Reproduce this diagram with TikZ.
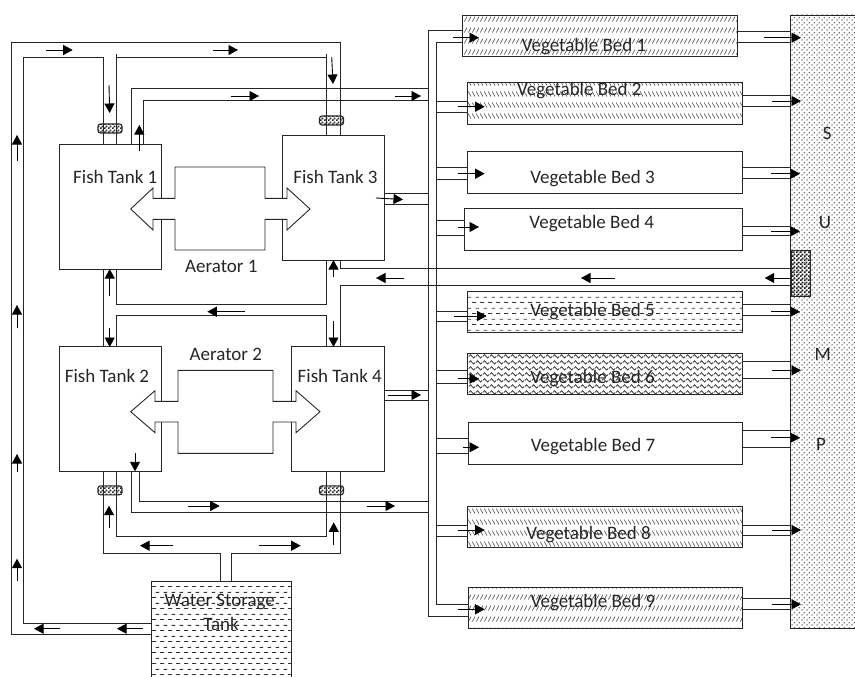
\documentclass[tikz,border=0pt]{standalone}
\usepackage{fontspec}
\setmainfont{Carlito}
\usetikzlibrary{arrows.meta,patterns}

% fill patterns, one tile each
\pgfdeclarepatternformonly{bedslash}{\pgfqpoint{0pt}{0pt}}{\pgfqpoint{3.6pt}{10.7pt}}{\pgfqpoint{3.6pt}{10.7pt}}{
  \pgfsetlinewidth{0.6pt}
  \pgfpathmoveto{\pgfqpoint{0.3pt}{2.5pt}}\pgfpathlineto{\pgfqpoint{3.3pt}{7.5pt}}
  \pgfusepath{stroke}}
\pgfdeclarepatternformonly{bedback}{\pgfqpoint{0pt}{0pt}}{\pgfqpoint{3.6pt}{10.7pt}}{\pgfqpoint{3.6pt}{10.7pt}}{
  \pgfsetlinewidth{0.6pt}
  \pgfpathmoveto{\pgfqpoint{0.3pt}{7.5pt}}\pgfpathlineto{\pgfqpoint{3.3pt}{2.5pt}}
  \pgfusepath{stroke}}
\pgfdeclarepatternformonly{beddash}{\pgfqpoint{0pt}{0pt}}{\pgfqpoint{8pt}{10.6pt}}{\pgfqpoint{8pt}{10.6pt}}{
  \pgfsetlinewidth{0.9pt}
  \pgfpathmoveto{\pgfqpoint{0pt}{2.6pt}}\pgfpathlineto{\pgfqpoint{4.5pt}{2.6pt}}
  \pgfpathmoveto{\pgfqpoint{4pt}{7.9pt}}\pgfpathlineto{\pgfqpoint{8pt}{7.9pt}}
  \pgfusepath{stroke}}
\pgfdeclarepatternformonly{bedwave}{\pgfqpoint{0pt}{0pt}}{\pgfqpoint{7pt}{6pt}}{\pgfqpoint{7pt}{6pt}}{
  \pgfsetlinewidth{0.8pt}
  \pgfpathmoveto{\pgfqpoint{0pt}{3pt}}
  \pgfpathcurveto{\pgfqpoint{1.5pt}{5.5pt}}{\pgfqpoint{2pt}{5.5pt}}{\pgfqpoint{3.5pt}{3pt}}
  \pgfpathcurveto{\pgfqpoint{5pt}{0.5pt}}{\pgfqpoint{5.5pt}{0.5pt}}{\pgfqpoint{7pt}{3pt}}
  \pgfusepath{stroke}}
\pgfdeclarepatternformonly{sumpdots}{\pgfqpoint{0pt}{0pt}}{\pgfqpoint{4.6pt}{4.6pt}}{\pgfqpoint{4.6pt}{4.6pt}}{
  \pgfpathcircle{\pgfqpoint{1.15pt}{1.15pt}}{0.75pt}
  \pgfpathcircle{\pgfqpoint{3.45pt}{3.45pt}}{0.75pt}
  \pgfusepath{fill}}
\pgfdeclarepatternformonly{checkfill}{\pgfqpoint{0pt}{0pt}}{\pgfqpoint{4pt}{4pt}}{\pgfqpoint{4pt}{4pt}}{
  \pgfpathrectangle{\pgfqpoint{0pt}{0pt}}{\pgfqpoint{2pt}{2pt}}
  \pgfpathrectangle{\pgfqpoint{2pt}{2pt}}{\pgfqpoint{2pt}{2pt}}
  \pgfusepath{fill}}

\tikzset{
  tankbox/.style={draw=black!85, line width=0.9pt, inner sep=0pt},
  bedbox/.style={draw=black!85, line width=0.9pt, inner sep=0pt, minimum height=41.5pt},
  valvebox/.style={draw=black!85, line width=1.1pt, rounded corners=2.5pt, inner sep=0pt, minimum width=24pt, minimum height=9pt, pattern=checkfill, pattern color=black!85},
  pipe/.style={draw=black!85, line width=0.9pt},
  flow/.style={->, black, line width=0.9pt},
  aerbox/.style={draw=black!85, line width=0.9pt, fill=white},
  lbl/.style={font=\fontsize{19}{22}\selectfont, text=black!85, inner sep=0pt},
}

% flow mark between two named points
\newcommand{\flowarrow}[3]{
  \coordinate (#1s) at #2;
  \coordinate (#1e) at #3;
  \draw[flow] (#1s) -- (#1e);
}

\begin{document}
\begin{tikzpicture}[x=1pt, y=-1pt, >={Triangle[length=9.5pt,width=10pt]}]
    \useasboundingbox (0,0) rectangle (855,677);
    % tanks
    \node[tankbox, minimum width=101.5pt, minimum height=125pt] (ft1) at (110.25,206.5) {};
    \node[tankbox, minimum width=102pt, minimum height=125pt] (ft3) at (333,197.5) {};
    \node[tankbox, minimum width=101.5pt, minimum height=125pt] (ft2) at (110.25,409.2) {};
    \node[tankbox, minimum width=93pt, minimum height=125pt] (ft4) at (337.5,409.2) {};
    \node[tankbox, minimum width=140pt, minimum height=108.7pt, pattern=beddash, pattern color=black!80] (wst) at (221.3,635.65) {};
    % pump column
    \node[tankbox, minimum width=79.7pt, minimum height=613.7pt, pattern=sumpdots, pattern color=black!80] (sump) at (830.15,321.85) {};
    \node[tankbox, minimum width=19pt, minimum height=46.4pt, pattern=checkfill, pattern color=black!90] (pump) at (800.5,273.5) {};
    % beds
    \node[bedbox, minimum width=274.5pt, pattern=bedslash, pattern color=black!75] (bed1) at (599.75,36) {};
    \node[bedbox, minimum width=274.3pt, pattern=bedback, pattern color=black!75] (bed2) at (604.85,103.5) {};
    \node[bedbox, minimum width=274.3pt] (bed3) at (604.85,172.25) {};
    \node[bedbox, minimum width=278.7pt] (bed4) at (603.35,229.65) {};
    \node[bedbox, minimum width=274.3pt, pattern=beddash, pattern color=black!80] (bed5) at (604.85,312) {};
    \node[bedbox, minimum width=274.3pt, pattern=bedwave, pattern color=black!85] (bed6) at (604.85,374) {};
    \node[bedbox, minimum width=274.4pt] (bed7) at (605.5,443.35) {};
    \node[bedbox, minimum width=274.3pt, pattern=bedback, pattern color=black!75] (bed8) at (604.85,526.85) {};
    \node[bedbox, minimum width=274.4pt, pattern=bedslash, pattern color=black!75] (bed9) at (605.5,608) {};
    % supply loops
    \coordinate (mana) at (428,0);
    \coordinate (manb) at (436.7,0);
    \draw[pipe] (wst.west |- 0,634) -- (11,634) -- (11,42) -- (340,42) -- (340,0 |- ft3.north);
    \draw[pipe] (wst.west |- 0,623) -- (23.5,623) -- (23.5,57) -- (103,57) -- (103,0 |- ft1.north);
    \draw[pipe] (116,54.5) -- (116,0 |- ft1.north) (116,57) -- (326,57) (326,54.5) -- (326,0 |- ft3.north);
    \draw[pipe] (103,0 |- ft1.south) -- (103,0 |- ft2.north);
    \draw[pipe] (326,0 |- ft3.south) -- (326,304.3) -- (116,304.3) -- (116,0 |- ft1.south);
    \draw[pipe] (116,0 |- ft2.north) -- (116,315.7) -- (326,315.7) -- (326,0 |- ft4.north);
    \draw[pipe] (sump.west |- 0,268.7) -- (340,268.7) -- (340,0 |- ft3.south);
    \draw[pipe] (sump.west |- 0,285) -- (340,285) -- (340,0 |- ft4.north);
    \draw[pipe] (103,0 |- ft2.south) -- (103,553.3) -- (220,553.3) -- (220,0 |- wst.north);
    \draw[pipe] (116,0 |- ft2.south) -- (116,536.3) -- (326,536.3) -- (326,0 |- ft4.south);
    \draw[pipe] (340,0 |- ft4.south) -- (340,553.3) -- (231,553.3) -- (231,0 |- wst.north);
    % tank outlets to the manifold
    \draw[pipe] (131,0 |- ft1.north) -- (131,88) -- (mana |- 0,88);
    \draw[pipe] (143,0 |- ft1.north) -- (143,100.5) -- (mana |- 0,100.5);
    \draw[pipe] (ft3.east |- 0,193) -- (mana |- 0,193) (ft3.east |- 0,204) -- (mana |- 0,204);
    \draw[pipe] (ft4.east |- 0,390.3) -- (mana |- 0,390.3) (ft4.east |- 0,400.7) -- (mana |- 0,400.7);
    \draw[pipe] (131,0 |- ft2.south) -- (131,512.3) -- (mana |- 0,512.3);
    \draw[pipe] (139.3,0 |- ft2.south) -- (139.3,501) -- (mana |- 0,501);
    % manifold and bed inlets
    \draw[pipe] (bed1.west |- 0,30.7) -- (mana |- 0,30.7) -- (mana |- 0,616) -- (bed9.west |- 0,616);
    \draw[pipe] (bed1.west |- 0,42) -- (manb |- 0,42) -- (manb |- 0,604.7) -- (bed9.west |- 0,604.7);
    \draw[pipe] (manb |- 0,101) -- (bed2.west |- 0,101) (manb |- 0,112) -- (bed2.west |- 0,112);
    \draw[pipe] (manb |- 0,167) -- (bed3.west |- 0,167) (manb |- 0,179) -- (bed3.west |- 0,179);
    \draw[pipe] (manb |- 0,220.3) -- (bed4.west |- 0,220.3) (manb |- 0,235.3) -- (bed4.west |- 0,235.3);
    \draw[pipe] (manb |- 0,311.7) -- (bed5.west |- 0,311.7) (manb |- 0,321) -- (bed5.west |- 0,321);
    \draw[pipe] (manb |- 0,370.3) -- (bed6.west |- 0,370.3) (manb |- 0,383.7) -- (bed6.west |- 0,383.7);
    \draw[pipe] (manb |- 0,438) -- (bed7.west |- 0,438) (manb |- 0,453.3) -- (bed7.west |- 0,453.3);
    \draw[pipe] (manb |- 0,525.3) -- (bed8.west |- 0,525.3) (manb |- 0,536.7) -- (bed8.west |- 0,536.7);
    % bed outlets
    \draw[pipe] (bed1.east |- 0,31) -- (sump.west |- 0,31) (bed1.east |- 0,42) -- (sump.west |- 0,42);
    \draw[pipe] (bed2.east |- 0,95.7) -- (sump.west |- 0,95.7) (bed2.east |- 0,106) -- (sump.west |- 0,106);
    \draw[pipe] (bed3.east |- 0,167.5) -- (sump.west |- 0,167.5) (bed3.east |- 0,178.7) -- (sump.west |- 0,178.7);
    \draw[pipe] (bed4.east |- 0,226.3) -- (sump.west |- 0,226.3) (bed4.east |- 0,235.7) -- (sump.west |- 0,235.7);
    \draw[pipe] (bed5.east |- 0,304.7) -- (sump.west |- 0,304.7) (bed5.east |- 0,315.7) -- (sump.west |- 0,315.7);
    \draw[pipe] (bed6.east |- 0,361.7) -- (sump.west |- 0,361.7) (bed6.east |- 0,378.7) -- (sump.west |- 0,378.7);
    \draw[pipe] (bed7.east |- 0,430.7) -- (sump.west |- 0,430.7) (bed7.east |- 0,447) -- (sump.west |- 0,447);
    \draw[pipe] (bed8.east |- 0,525.3) -- (sump.west |- 0,525.3) (bed8.east |- 0,535.7) -- (sump.west |- 0,535.7);
    \draw[pipe] (bed9.east |- 0,598.3) -- (sump.west |- 0,598.3) (bed9.east |- 0,609.3) -- (sump.west |- 0,609.3);
    % aerators
    \draw[aerbox] (175,167) -- (265,167) -- (265,198.3) -- (287,198.3) -- (287,188) -- (310,209) -- (287,230) -- (287,219.3) -- (265,219.3) -- (265,250) -- (175,250) -- (175,219.3) -- (153,219.3) -- (153,230) -- (130.7,209) -- (153,188) -- (153,198.3) -- (175,198.3) -- cycle;
    \draw[aerbox] (178,370.3) -- (273,370.3) -- (273,401.3) -- (296,401.3) -- (296,390.7) -- (320,411.7) -- (296,432.7) -- (296,422) -- (273,422) -- (273,453.3) -- (178,453.3) -- (178,422) -- (155,422) -- (155,432.7) -- (130.7,411.7) -- (155,390.7) -- (155,401.3) -- (178,401.3) -- cycle;
    % valves
    \node[valvebox] (v1) at (110,128.5) {};
    \node[valvebox] (v3) at (331.5,120.5) {};
    \node[valvebox] (v2) at (110,490.3) {};
    \node[valvebox] (v4) at (331.5,490.3) {};
    % flow marks, tanks side
    \flowarrow{a1}{(45.7,50)}{(72.7,50)}
    \flowarrow{a2}{(213,50)}{(238,50)}
    \flowarrow{a3}{(109,85)}{(109.7,113)}
    \flowarrow{a4}{(331.7,57)}{(333,84)}
    \flowarrow{a5}{(231,96)}{(259,96)}
    \flowarrow{a6}{(395,96)}{(421,96)}
    \flowarrow{a7}{(139.3,151)}{(139.3,125)}
    \flowarrow{a8}{(17,161)}{(17,135)}
    \flowarrow{a9}{(17,328)}{(17,305)}
    \flowarrow{a10}{(376,198)}{(403,199.5)}
    \flowarrow{a11}{(333.5,277)}{(333.5,260)}
    \flowarrow{a12}{(403.7,278)}{(376,278)}
    \flowarrow{a13}{(109.7,296)}{(109.7,269)}
    \flowarrow{a14}{(245,311.7)}{(207.3,311.7)}
    \flowarrow{a15}{(109.7,328)}{(109.7,347)}
    \flowarrow{a16}{(333.5,321)}{(333.5,347)}
    \flowarrow{a17}{(388,395)}{(421,395)}
    \flowarrow{a18}{(17,471.7)}{(17,454)}
    \flowarrow{a19}{(17,580.7)}{(17,558.7)}
    \flowarrow{a20}{(135,453.3)}{(135,471.3)}
    \flowarrow{a21}{(188,506)}{(219.7,506)}
    \flowarrow{a22}{(366.7,506)}{(395,506)}
    \flowarrow{a23}{(109,527.7)}{(109,505.7)}
    \flowarrow{a24}{(333.7,545.3)}{(333.7,522.3)}
    \flowarrow{a25}{(173,545.7)}{(140,545.7)}
    \flowarrow{a26}{(259,545.7)}{(300.7,545.7)}
    \flowarrow{a27}{(60,628.7)}{(34,628.7)}
    \flowarrow{a28}{(143,628.7)}{(117,628.7)}
    \flowarrow{r1}{(791,278)}{(764.7,278)}
    \flowarrow{r2}{(615,278)}{(581,278)}
    % flow marks, beds side
    \flowarrow{i1}{(453.3,37.7)}{(479,37.7)}
    \flowarrow{o1}{(764,37.7)}{(801,37.7)}
    \flowarrow{i2}{(458.3,106.7)}{(484.7,106.7)}
    \flowarrow{o2}{(772,101)}{(801,101)}
    \flowarrow{i3}{(458.3,173.7)}{(484.7,173.7)}
    \flowarrow{o3}{(771,173.7)}{(800,173.7)}
    \flowarrow{i4}{(458.3,227)}{(479,227)}
    \flowarrow{o4}{(771,231.3)}{(800,231.3)}
    \flowarrow{i5}{(454,316)}{(486.7,316)}
    \flowarrow{o5}{(771,311.7)}{(800,311.7)}
    \flowarrow{i6}{(458.3,378.7)}{(479,378.7)}
    \flowarrow{o6}{(772,370.3)}{(801,370.3)}
    \flowarrow{i7}{(463,447.3)}{(479,447.3)}
    \flowarrow{o7}{(771,437.7)}{(800,437.7)}
    \flowarrow{i8}{(458.3,530)}{(484.7,530)}
    \flowarrow{o8}{(772,530)}{(801,530)}
    \flowarrow{i9}{(458.3,609.3)}{(484.7,609.3)}
    \flowarrow{o9}{(772,604.3)}{(801,604.3)}
    % labels
    \node[lbl] (ft1t) at (115.3,177.2) {Fish Tank 1};
    \node[lbl] (ft3t) at (335.5,177.2) {Fish Tank 3};
    \node[lbl] (ft2t) at (107,376.2) {Fish Tank 2};
    \node[lbl] (ft4t) at (339.8,376.2) {Fish Tank 4};
    \node[lbl] (aer1t) at (221.3,266) {Aerator 1};
    \node[lbl] (aer2t) at (225.8,354) {Aerator 2};
    \node[lbl] (wstt) at (219.8,602) {Water Storage};
    \node[lbl] (wstb) at (221,624) {Tank};
    \node[lbl] (bed1t) at (584,46.5) {Vegetable Bed 1};
    \node[lbl] (bed2t) at (579.3,90.5) {Vegetable Bed 2};
    \node[lbl] (bed3t) at (592.5,178.5) {Vegetable Bed 3};
    \node[lbl] (bed4t) at (591.7,223.2) {Vegetable Bed 4};
    \node[lbl] (bed5t) at (592.5,311.5) {Vegetable Bed 5};
    \node[lbl] (bed6t) at (592.5,378.2) {Vegetable Bed 6};
    \node[lbl] (bed7t) at (593,446.5) {Vegetable Bed 7};
    \node[lbl] (bed8t) at (588.5,534.2) {Vegetable Bed 8};
    \node[lbl] (bed9t) at (593,602.2) {Vegetable Bed 9};
    \node[lbl] (sumps) at (827.3,133.3) {S};
    \node[lbl] (sumpu) at (825,222) {U};
    \node[lbl] (sumpm) at (822.7,354) {M};
    \node[lbl] (sumpp) at (821,444.7) {P};
\end{tikzpicture}
\end{document}
